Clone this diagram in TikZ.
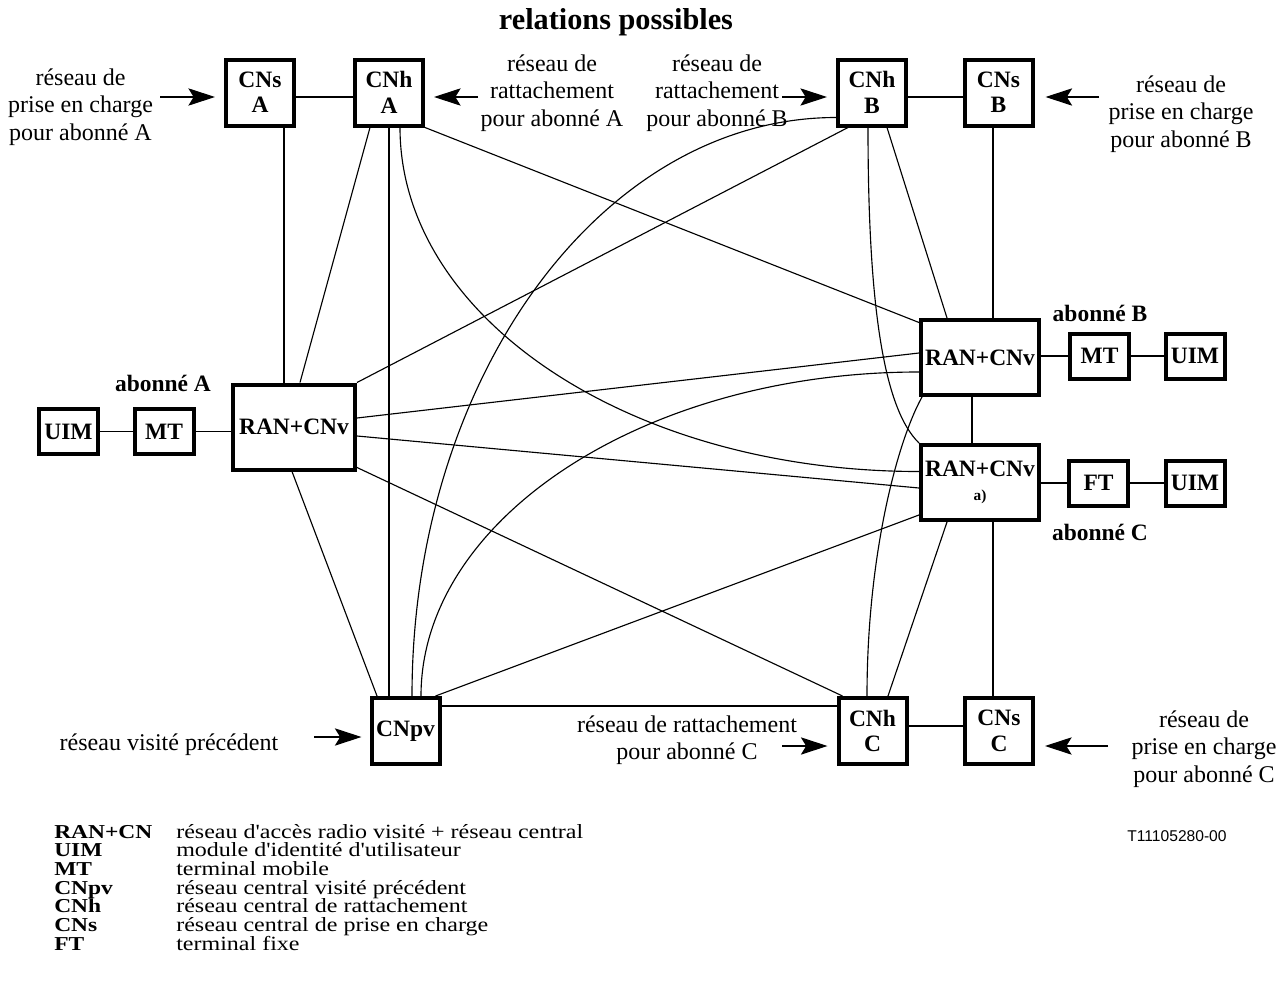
\documentclass[tikz,border=0pt]{standalone}
\usepackage{fontspec}
\setmainfont{Liberation Serif}
\newfontfamily\arialfont{Liberation Sans}
\usetikzlibrary{arrows.meta,calc}
\newcommand{\legsq}[1]{\scalebox{1}[0.84]{#1}}
\begin{document}
\begin{tikzpicture}[x=0.75pt,y=-0.75pt,
  bx/.style={draw,line width=3pt,inner sep=0pt,align=center,font=\bfseries\fontsize{17.6}{19}\selectfont},
  sq/.style={bx,minimum width=51pt,minimum height=49.5pt},
  rna/.style={bx,minimum width=91.5pt,minimum height=63.75pt},
  rn/.style={bx,minimum width=88.5pt,minimum height=56.25pt},
  sm/.style={bx,minimum width=44.25pt,minimum height=33.75pt},
  ln/.style={line width=0.85pt},
  arr/.style={line width=0.85pt,-{Stealth[length=20pt,width=13pt,inset=4pt]}},
  lbl/.style={align=center,inner sep=0pt,font=\fontsize{18}{20.6}\selectfont},
  ab/.style={inner sep=0pt,font=\bfseries\fontsize{17.6}{19}\selectfont},
  legt/.style={inner sep=0pt,anchor=base west,font=\bfseries\fontsize{17.6}{19}\selectfont},
  legd/.style={inner sep=0pt,anchor=base west,font=\fontsize{18}{19}\selectfont}]
\useasboundingbox (0,0) rectangle (1278,1003);

% title
\node[inner sep=0pt,font=\bfseries\fontsize{22.7}{26}\selectfont] (title) at (616,22) {relations possibles};

% boxes
\node[sq] (cnsa) at (260,92.5) {CNs\\A};
\node[sq] (cnha) at (389,92.5) {CNh\\A};
\node[sq] (cnhb) at (872,92.5) {CNh\\B};
\node[sq] (cnsb) at (998.5,92.5) {CNs\\B};
\node[rna] (rana) at (294,427) {RAN+CNv};
\node[sm] (mta) at (164,431.5) {MT};
\node[sm] (uima) at (68.5,431.5) {UIM};
\node[rn] (ranb) at (980,357.5) {RAN+CNv};
\node[sm] (mtb) at (1099.5,356) {MT};
\node[sm] (uimb) at (1195,356) {UIM};
\node[rn] (ranc) at (980,482.5) {RAN+CNv\\[-1pt]{\fontsize{11.5}{12}\selectfont a)}};
\node[sm] (ft) at (1098.5,483) {FT};
\node[sm] (uimc) at (1195,483) {UIM};
\node[sq] (cnpv) at (405.5,731) {CNpv};
\node[sq] (cnhc) at (872.5,731) {CNh\\C};
\node[sq] (cnsc) at (999,731) {CNs\\C};

% subscriber labels
\node[ab] (aba) at (163,383) {abonné A};
\node[ab] (abb) at (1100,313) {abonné B};
\node[ab] (abc) at (1100,532) {abonné C};

% side labels
\node[lbl] (l1) at (80.5,107) {réseau de\\prise en charge\\pour abonné A};
\node[lbl] (l2) at (552,93) {réseau de\\rattachement\\pour abonné A};
\node[lbl] (l3) at (717,93) {réseau de\\rattachement\\pour abonné B};
\node[lbl] (l4) at (1181,114) {réseau de\\prise en charge\\pour abonné B};
\node[lbl] (l5) at (169,745) {réseau visité précédent};
\node[lbl] (l6) at (687,740) {réseau de rattachement\\pour abonné C};
\node[lbl] (l7) at (1204,749) {réseau de\\prise en charge\\pour abonné C};

% arrows
\coordinate (t1) at (160,97);
\coordinate (t2) at (478,97);
\coordinate (t3) at (782,97);
\coordinate (t4) at (1099,97);
\coordinate (t5) at (314,737);
\coordinate (t6) at (782,746);
\coordinate (t7) at (1108,746);
\draw[arr] (t1) -- ($(cnsa.west)+(-9,4.5)$);
\draw[arr] (t2) -- ($(cnha.east)+(9,4.5)$);
\draw[arr] (t3) -- ($(cnhb.west)+(-9,4.5)$);
\draw[arr] (t4) -- ($(cnsb.east)+(11,4.5)$);
\draw[arr] (t5) -- ($(cnpv.west)+(-8,6)$);
\draw[arr] (t6) -- ($(cnhc.west)+(-9,15)$);
\draw[arr] (t7) -- ($(cnsc.east)+(10,15)$);

% connectors
\draw[ln] ($(cnsa.east)+(0,4.5)$) -- ($(cnha.west)+(0,4.5)$);
\draw[ln] ($(cnhb.east)+(0,4.5)$) -- ($(cnsb.west)+(0,4.5)$);
\draw[ln] ($(cnsa.south)+(24,0)$) -- ($(rana.north)+(-10,0)$);
\draw[ln] ($(cnha.south)+(-19,0)$) -- ($(rana.north)+(6,0)$);
\draw[ln] (cnha.south) -- ($(cnpv.north)+(-16.5,0)$);
\draw[ln] ($(cnha.south)+(11,0)$) .. controls +(0,190) and +(-290,0) .. ($(ranc.west)+(0,-11)$);
\draw[ln] (cnha.south east) -- ($(ranb.west)+(0,-35)$);
\draw[ln] ($(cnhb.west)+(0,25)$) .. controls +(-235,0) and +(0,-317) .. ($(cnpv.north)+(6.5,0)$);
\draw[ln] ($(cnhb.south west)+(12,0)$) -- (rana.north east);
\draw[ln] ($(cnhb.south)+(-4,0)$) .. controls +(0,175) and +(-36,-35) .. (ranc.north west);
\draw[ln] ($(cnhb.south)+(15,0)$) -- ($(ranb.north)+(-33,0)$);
\draw[ln] ($(cnsb.south)+(-5.5,0)$) -- ($(ranb.north)+(13,0)$);
\draw[ln] (ranb.east |- mtb.west) -- (mtb.west);
\draw[ln] (mtb) -- (uimb);
\draw[ln] ($(ranb.south)+(-8,0)$) -- ($(ranc.north)+(-8,0)$);
\draw[ln] ($(ranb.south west)+(3,0)$) .. controls +(-25,45) and +(0,-140) .. ($(cnhc.north)+(-5.5,0)$);
\draw[ln] ($(ranb.west)+(0,14.5)$) .. controls +(-275,0) and +(0,-177) .. ($(cnpv.north)+(15.5,0)$);
\draw[ln] ($(rana.east)+(0,-9)$) -- ($(ranb.west)+(0,-4.5)$);
\draw[ln] ($(rana.east)+(0,9)$) -- ($(ranc.west)+(0,5.5)$);
\draw[ln] ($(rana.south east)+(0,-4)$) -- ($(cnhc.north west)+(6,0)$);
\draw[ln] ($(rana.south)+(-2,0)$) -- ($(cnpv.north)+(-28.5,0)$);
\draw[ln] ($(ranc.west)+(0,32.5)$) -- ($(cnpv.north)+(30,0)$);
\draw[ln] ($(ranc.south)+(-33,0)$) -- ($(cnhc.north)+(15.5,0)$);
\draw[ln] ($(ranc.south)+(13,0)$) -- ($(cnsc.north)+(-6,0)$);
\draw[ln] (ranc.east |- ft.west) -- (ft.west);
\draw[ln] (ft) -- (uimc);
\draw[ln] ($(cnpv.east)+(0,-25)$) -- ($(cnhc.west)+(0,-25)$);
\draw[ln] ($(cnhc.east)+(0,-5)$) -- ($(cnsc.west)+(0,-5)$);
\draw[ln] (uima) -- (mta);
\draw[ln] (mta.east) -- (rana.west |- mta.east);

% legend
\foreach \t/\d [count=\i from 0] in {RAN+CN/réseau d\textquotesingle accès radio visité + réseau central,UIM/module d\textquotesingle identité d\textquotesingle utilisateur,MT/terminal mobile,CNpv/réseau central visité précédent,CNh/réseau central de rattachement,CNs/réseau central de prise en charge,FT/terminal fixe}{
  \node[legt] (lt\i) at (54,{838+18.7*\i}) {\legsq{\t}};
  \node[legd] (ld\i) at (176,{838+18.7*\i}) {\legsq{\d}};
}
\node[inner sep=0pt,font=\arialfont\fontsize{11.7}{13}\selectfont] (ref) at (1177,836) {T11105280-00};
\end{tikzpicture}
\end{document}
